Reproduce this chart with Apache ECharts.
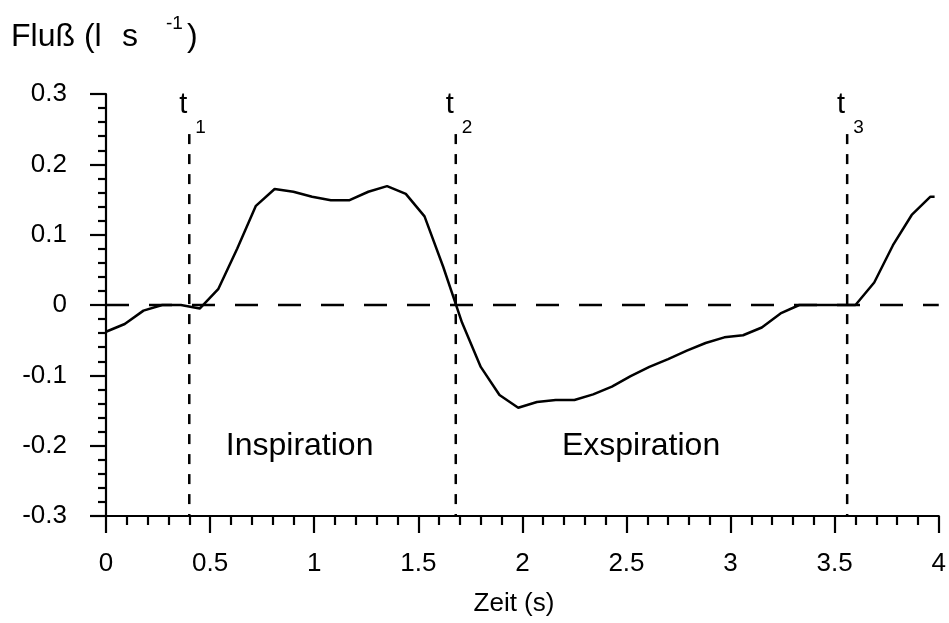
<!DOCTYPE html>
<html>
<head>
<meta charset="utf-8">
<script src="https://cdn.jsdelivr.net/npm/echarts@6/dist/echarts.min.js"></script>
<style>
  html, body { margin: 0; padding: 0; background: #fff; }
  #chart { width: 949px; height: 623px; }
</style>
</head>
<body>
<div id="chart"></div>
<script>
// Breathing flow trace: time (s) and flow (l/s), one sample every 0.09 s
const time = [0, 0.09, 0.18, 0.27, 0.36, 0.45, 0.54, 0.63, 0.72, 0.81,
              0.90, 0.99, 1.08, 1.17, 1.26, 1.35, 1.44, 1.53, 1.62, 1.71,
              1.80, 1.89, 1.98, 2.07, 2.16, 2.25, 2.34, 2.43, 2.52, 2.61,
              2.70, 2.79, 2.88, 2.97, 3.06, 3.15, 3.24, 3.33, 3.42, 3.51,
              3.60, 3.69, 3.78, 3.87, 3.96, 3.98];
const flow = [-0.038, -0.027, -0.008, 0, 0, -0.005, 0.023, 0.080, 0.141, 0.165,
              0.161, 0.154, 0.149, 0.149, 0.161, 0.169, 0.158, 0.126, 0.054, -0.025,
              -0.088, -0.128, -0.146, -0.138, -0.135, -0.135, -0.127, -0.116, -0.101, -0.088,
              -0.077, -0.065, -0.054, -0.046, -0.043, -0.032, -0.012, 0, 0, 0,
              0, 0.032, 0.085, 0.128, 0.154, 0.154];

// Phase boundaries t1, t2, t3 (s)
const markerTimes = [0.4, 1.68, 3.56];
const markerNames = ['1', '2', '3'];
const markerTop = 0.243;

// Axis ranges and steps
const xRange = [0, 4];
const xStep = 0.5;
const yRange = [-0.3, 0.3];
const yStep = 0.1;

// Phase labels: [text, time, flow]
const phaseLabels = [['Inspiration', 0.93, -0.2], ['Exspiration', 2.57, -0.2]];

const FONT = 'Arial, "Liberation Sans", sans-serif';
const BLACK = '#000';

const chart = echarts.init(document.getElementById('chart'), null, { renderer: 'canvas' });

function axisCommon(tickLen, minorLen, margin) {
  return {
    type: 'value',
    axisLine: { show: true, onZero: false, lineStyle: { color: BLACK, width: 2.2 } },
    axisTick: { show: true, inside: false, length: tickLen, lineStyle: { color: BLACK, width: 2.2 } },
    minorTick: { show: true, splitNumber: 5, length: minorLen, lineStyle: { color: BLACK, width: 2.2 } },
    splitLine: { show: false },
    minorSplitLine: { show: false },
    axisLabel: { color: BLACK, fontSize: 26, fontFamily: FONT, margin: margin }
  };
}

const series = [];

// Dashed zero line
series.push({
  type: 'line',
  data: [[xRange[0], 0], [xRange[1], 0]],
  symbol: 'none',
  silent: true,
  lineStyle: { color: BLACK, width: 2.5, type: [23, 20] },
  z: 2
});

// Dashed phase boundary lines
markerTimes.forEach(function (t) {
  series.push({
    type: 'line',
    data: [[t, markerTop], [t, yRange[0]]],
    symbol: 'none',
    silent: true,
    lineStyle: { color: BLACK, width: 2.5, type: [10, 10] },
    z: 2
  });
});

// Flow curve
series.push({
  type: 'line',
  data: time.map(function (t, i) { return [t, flow[i]]; }),
  symbol: 'none',
  silent: true,
  lineStyle: { color: BLACK, width: 2.5 },
  z: 3
});

chart.setOption({
  animation: false,
  backgroundColor: '#fff',
  grid: { left: 106, right: 7, top: 94, bottom: 107, containLabel: false },
  xAxis: Object.assign(axisCommon(17, 9, 35), { min: xRange[0], max: xRange[1], interval: xStep }),
  yAxis: Object.assign(axisCommon(16, 8, 39), { min: yRange[0], max: yRange[1], interval: yStep }),
  series: series
});

function textEl(text, x, y, size, align) {
  return {
    type: 'text',
    x: x,
    y: y,
    silent: true,
    style: {
      text: text,
      fill: BLACK,
      font: size + 'px ' + FONT,
      align: align || 'left',
      verticalAlign: 'top'
    }
  };
}

const graphics = [
  // Axis titles
  textEl('Fluß (l', 11, 21, 32),
  textEl('s', 122, 21, 32),
  textEl('-1', 166, 14, 19),
  textEl(')', 187, 21, 32),
  textEl('Zeit (s)', 514, 591, 26, 'center')
];

// t labels over the boundary lines
markerTimes.forEach(function (t, i) {
  const px = chart.convertToPixel({ gridIndex: 0 }, [t, 0])[0];
  graphics.push(textEl('t', px - 2, 90, 29, 'right'));
  graphics.push(textEl(markerNames[i], px + 6, 118, 19, 'left'));
});

// Phase names
phaseLabels.forEach(function (p) {
  const pt = chart.convertToPixel({ gridIndex: 0 }, [p[1], p[2]]);
  graphics.push(textEl(p[0], pt[0], 430, 32, 'center'));
});

chart.setOption({ graphic: graphics });
</script>
</body>
</html>
